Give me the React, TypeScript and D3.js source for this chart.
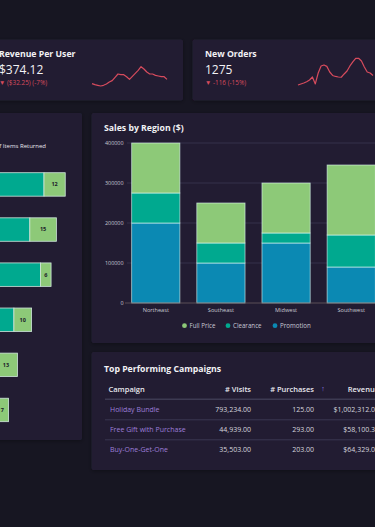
import React from 'react';
import * as d3 from 'd3';

// ---------- DATA ----------
const revenueSpark = [329.7, 325.5, 322.8, 320.0, 322.8, 328.3, 336.6, 342.1, 355.9, 369.7, 366.9, 366.9, 358.6, 347.6, 360.0, 372.4, 384.8, 400.0, 390.3, 377.9, 369.7, 369.7, 364.1, 361.4, 358.6, 358.6, 347.6];
const ordersSpark = [1100, 1111, 1122, 1137, 1156, 1190, 1112, 1235, 1314, 1325, 1309, 1246, 1207, 1196, 1190, 1187, 1224, 1257, 1314, 1359, 1400, 1400, 1370, 1302, 1246, 1235, 1207];

const kpiTitles = ['Revenue Per User', 'New Orders'];
const kpiValues = ['$374.12', '1275'];
const kpiDeltas = ['▼ ($32.25) (-7%)', '▼ -116 (-15%)'];

const itemKeys = ['Item 1', 'Item 2', 'Item 3', 'Item 4', 'Item 5', 'Item 6'];
const itemsSold = [87, 79, 85, 70, 59, 60];
const itemsReturned = [12, 15, 6, 10, 13, 7];
const itemsLegend = '# of Items Returned';

const regions = ['Northeast', 'Southeast', 'Midwest', 'Southwest'];
const promotion = [200000, 100000, 150000, 90000];
const clearance = [75000, 50000, 25000, 80000];
const fullPrice = [125000, 100000, 125000, 175000];
const salesTicks = [0, 100000, 200000, 300000, 400000];
const seriesNames = ['Full Price', 'Clearance', 'Promotion'];

const campaigns = ['Holiday Bundle', 'Free Gift with Purchase', 'Buy-One-Get-One'];
const visits = [793234, 44939, 35503];
const purchases = [125, 293, 203];
const revenue = [1002312, 58100.34, 64329];
const tableHeaders = ['Campaign', '# Visits', '# Purchases', 'Revenue'];

// ---------- STYLE ----------
const BG = '#171622';
const PANEL = '#221f33';
const GREEN = '#8dc978';
const TEAL = '#00a98f';
const BLUE = '#0b89b3';
const RED = '#d64b5d';
const FONT = "'Open Sans', 'Noto Sans', sans-serif";

function Spark({ data, x0, x1, yTop, yBot }: { data: number[]; x0: number; x1: number; yTop: number; yBot: number }) {
  const x = d3.scaleLinear().domain([0, data.length - 1]).range([x0, x1]);
  const y = d3.scaleLinear().domain([d3.min(data)!, d3.max(data)!]).range([yBot, yTop]);
  const line = d3.line<number>().x((_, i) => x(i)).y(d => y(d));
  return <path d={line(data) || ''} fill="none" stroke={RED} strokeWidth={1.2} strokeLinejoin="round" />;
}

export default function App() {
  // Left horizontal stacked bars
  const hx = d3.scaleLinear().domain([0, 100]).range([-110, 67]);
  const hy = d3.scaleBand<string>().domain(itemKeys).range([161.9, 432.5]).paddingInner(0.48).paddingOuter(0.24);

  // Sales by region
  const sx = d3.scaleBand<string>().domain(regions).range([127, 380]).paddingInner(0.26).paddingOuter(0.072);
  const sy = d3.scaleLinear().domain([0, 400000]).range([303, 143]);
  const stackRows = regions.map((r, i) => ({ region: r, Promotion: promotion[i], Clearance: clearance[i], 'Full Price': fullPrice[i] }));
  const stack = d3.stack<any>().keys(['Promotion', 'Clearance', 'Full Price'])(stackRows);
  const colorOf: Record<string, string> = { 'Full Price': GREEN, Clearance: TEAL, Promotion: BLUE };

  const fmt2 = d3.format(',.2f');
  const fmtMoney = (v: number) => '$' + d3.format(',.2f')(v);

  const legendPos = [184.5, 228, 275];
  const rowY = [412, 432, 452];
  const rightCols = [251, 314, 379];

  return (
    <svg width={375} height={527} style={{ position: 'absolute', left: 0, top: 0, display: 'block' }} fontFamily={FONT}>
      <defs>
        <filter id="sh" x="-10%" y="-10%" width="120%" height="120%">
          <feDropShadow dx="0" dy="1" stdDeviation="2" floodColor="#000" floodOpacity="0.35" />
        </filter>
      </defs>
      <rect width={375} height={527} fill={BG} />

      {/* Panels */}
      <rect x={-14} y={39.5} width={197} height={61} rx={2} fill={PANEL} filter="url(#sh)" />
      <rect x={192.5} y={39.5} width={200} height={61} rx={2} fill={PANEL} filter="url(#sh)" />
      <rect x={-20} y={113} width={102} height={327} rx={2} fill={PANEL} filter="url(#sh)" />
      <rect x={91.5} y={113} width={300} height={230} rx={2} fill={PANEL} filter="url(#sh)" />
      <rect x={91.5} y={352} width={300} height={118} rx={2} fill={PANEL} filter="url(#sh)" />

      {/* KPI cards */}
      {[ -1, 205 ].map((tx, i) => (
        <g key={i}>
          <text x={tx} y={56.5} fill="#f2f2f5" fontSize={8.7} fontWeight={700}>{kpiTitles[i]}</text>
          <text x={tx} y={74} fill="#f2f2f5" fontSize={12}>{kpiValues[i]}</text>
          <text x={tx} y={85.3} fill={RED} fontSize={6.4}>{kpiDeltas[i]}</text>
        </g>
      ))}
      <Spark data={revenueSpark} x0={92} x1={167} yTop={66.7} yBot={86} />
      <Spark data={ordersSpark} x0={298} x1={373} yTop={58.3} yBot={85} />

      {/* Items returned chart */}
      <text x={46} y={148} fill="#e8e8ee" fontSize={6} textAnchor="end">{itemsLegend}</text>
      {itemKeys.map((k, i) => {
        const y0 = hy(k)!;
        const bh = hy.bandwidth();
        const a = hx(0), b = hx(itemsSold[i]), c = hx(itemsSold[i] + itemsReturned[i]);
        return (
          <g key={k}>
            <rect x={a} y={y0} width={b - a} height={bh} fill={TEAL} stroke="#cfe6dc" strokeWidth={0.8} />
            <rect x={b} y={y0} width={c - b} height={bh} fill={GREEN} stroke="#cfe6dc" strokeWidth={0.8} />
            <text x={(b + c) / 2} y={y0 + bh / 2} dy="0.35em" fontSize={5.5} fontWeight={700} fill="#1b1a28" textAnchor="middle">{itemsReturned[i]}</text>
          </g>
        );
      })}

      {/* Sales by Region */}
      <text x={104} y={131} fill="#f2f2f5" fontSize={8.7} fontWeight={700}>Sales by Region ($)</text>
      {salesTicks.map(t => (
        <g key={t}>
          {t > 0 && <line x1={127} x2={380} y1={sy(t)} y2={sy(t)} stroke="#3a3750" strokeWidth={0.8} />}
          <text x={123.5} y={sy(t)} dy="0.35em" fontSize={5.4} fill="#c8c8d2" textAnchor="end">{t}</text>
        </g>
      ))}
      {stack.map(layer => (
        <g key={layer.key} fill={colorOf[layer.key]}>
          {layer.map((d, i) => (
            <rect key={i} x={sx(regions[i])!} y={sy(d[1])} width={sx.bandwidth()} height={sy(d[0]) - sy(d[1])}
              stroke="rgba(220,245,240,0.75)" strokeWidth={0.8} />
          ))}
        </g>
      ))}
      <line x1={125} x2={380} y1={sy(0)} y2={sy(0)} stroke="#6b5d60" strokeWidth={0.8} />
      {regions.map(r => (
        <text key={r} x={sx(r)! + sx.bandwidth() / 2} y={312} fontSize={5.6} fill="#c8c8d2" textAnchor="middle">{r}</text>
      ))}
      {seriesNames.map((s, i) => (
        <g key={s}>
          <circle cx={legendPos[i]} cy={325.7} r={2.4} fill={colorOf[s]} />
          <text x={legendPos[i] + 5} y={325.7} dy="0.35em" fontSize={6.2} fill="#c8c8d2">{s}</text>
        </g>
      ))}

      {/* Top Performing Campaigns */}
      <text x={104} y={372} fill="#f2f2f5" fontSize={8.7} fontWeight={700}>Top Performing Campaigns</text>
      <text x={108.5} y={392} fontSize={7.5} fontWeight={600} fill="#e8e8ee">{tableHeaders[0]}</text>
      {tableHeaders.slice(1).map((h, i) => (
        <text key={h} x={rightCols[i]} y={392} fontSize={7.5} fontWeight={600} fill="#e8e8ee" textAnchor="end">{h}</text>
      ))}
      <text x={323} y={391} fontSize={7} fill="#8f7fe6" textAnchor="middle">↑</text>
      <line x1={105} x2={380} y1={399.2} y2={399.2} stroke="#3d3a52" strokeWidth={1.6} />
      {campaigns.map((c, i) => (
        <g key={c}>
          <text x={110} y={rowY[i]} fontSize={7} fill="#9d7ed9">{c}</text>
          <text x={rightCols[0]} y={rowY[i]} fontSize={7} fill="#d6d6de" textAnchor="end">{fmt2(visits[i])}</text>
          <text x={rightCols[1]} y={rowY[i]} fontSize={7} fill="#d6d6de" textAnchor="end">{fmt2(purchases[i])}</text>
          <text x={rightCols[2]} y={rowY[i]} fontSize={7} fill="#d6d6de" textAnchor="end">{fmtMoney(revenue[i])}</text>
          {i < campaigns.length - 1 && (
            <line x1={105} x2={380} y1={rowY[i] + 7.8} y2={rowY[i] + 7.8} stroke="#3a3750" strokeWidth={1} />
          )}
        </g>
      ))}
    </svg>
  );
}
